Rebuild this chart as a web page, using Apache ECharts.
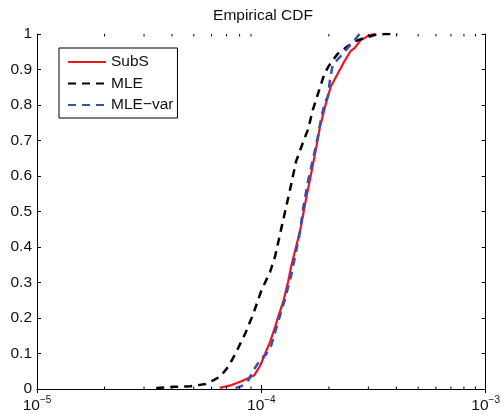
<!DOCTYPE html>
<html>
<head>
<meta charset="utf-8">
<script src="https://cdn.jsdelivr.net/npm/echarts@6/dist/echarts.min.js"></script>
<style>
  html, body { margin: 0; padding: 0; background: #fff; }
  #chart { width: 503px; height: 414px; }
</style>
</head>
<body>
<div id="chart"></div>
<script>
// Empirical CDF of three estimators (x on a log scale)
const seriesNames = ['SubS', 'MLE', 'MLE\u2212var'];

const subsX = [6.52e-5, 7.37e-5, 8.16e-5, 8.76e-5, 9.31e-5, 9.90e-5, 1.042e-4, 1.096e-4, 1.153e-4, 1.189e-4,
  1.252e-4, 1.317e-4, 1.358e-4, 1.458e-4, 1.503e-4, 1.582e-4, 1.665e-4, 1.751e-4, 1.824e-4, 1.919e-4,
  2.04e-4, 2.19e-4, 2.35e-4, 2.50e-4, 2.61e-4, 2.77e-4, 2.89e-4, 3.04e-4, 3.23e-4];
const subsY = [0.003, 0.011, 0.022, 0.031, 0.039, 0.067, 0.101, 0.134, 0.176, 0.204,
  0.246, 0.303, 0.345, 0.423, 0.459, 0.535, 0.605, 0.675, 0.737, 0.793,
  0.852, 0.888, 0.924, 0.952, 0.961, 0.983, 0.989, 0.997, 1.0];

const mleX = [3.40e-5, 4.08e-5, 4.85e-5, 5.65e-5, 6.13e-5, 6.59e-5, 7.14e-5, 7.67e-5, 8.49e-5, 9.22e-5,
  1.0e-4, 1.096e-4, 1.153e-4, 1.226e-4, 1.290e-4, 1.344e-4, 1.428e-4, 1.534e-4, 1.614e-4, 1.698e-4,
  1.824e-4, 1.919e-4, 2.04e-4, 2.19e-4, 2.43e-4, 2.63e-4, 2.89e-4, 3.19e-4, 3.54e-4, 4.04e-4];
const mleY = [0.003, 0.006, 0.008, 0.014, 0.025, 0.036, 0.064, 0.100, 0.157, 0.213,
  0.277, 0.331, 0.375, 0.451, 0.513, 0.563, 0.641, 0.695, 0.731, 0.787,
  0.849, 0.891, 0.919, 0.944, 0.966, 0.980, 0.989, 0.997, 1.0, 1.0];

const mleVarX = [7.67e-5, 8.16e-5, 8.76e-5, 9.22e-5, 1.0e-4, 1.042e-4, 1.107e-4, 1.189e-4, 1.277e-4, 1.358e-4,
  1.428e-4, 1.488e-4, 1.534e-4, 1.614e-4, 1.698e-4, 1.787e-4, 1.843e-4, 1.919e-4, 1.98e-4, 2.02e-4,
  2.08e-4, 2.26e-4, 2.43e-4, 2.61e-4, 2.74e-4];
const mleVarY = [0.003, 0.008, 0.025, 0.053, 0.087, 0.095, 0.123, 0.190, 0.255, 0.319,
  0.387, 0.443, 0.507, 0.585, 0.647, 0.711, 0.759, 0.807, 0.824, 0.868,
  0.913, 0.938, 0.961, 0.983, 1.0];

// decade tick labels: 10^exponent
const xTickExponents = ['\u22125', '\u22124', '\u22123'];
// minor ticks of the log axis (2..9 x 10^k)
const xMinorTicks = [2e-5, 3e-5, 4e-5, 5e-5, 6e-5, 7e-5, 8e-5, 9e-5,
  2e-4, 3e-4, 4e-4, 5e-4, 6e-4, 7e-4, 8e-4, 9e-4];

const FONT = 'Liberation Sans, Arial, Helvetica, sans-serif';
const FS = 15.5;
const pairs = (xs, ys) => xs.map((x, i) => [x, ys[i]]);

const grid = { left: 37, right: 14, top: 34, bottom: 23 };
const plotCenterX = grid.left + (503 - grid.left - grid.right) / 2;

const axisLine = { show: true, lineStyle: { color: '#000', width: 1 } };
const tick = { show: true, inside: true, length: 4, lineStyle: { color: '#000', width: 1 } };

const chart = echarts.init(document.getElementById('chart'), null, { renderer: 'canvas' });
chart.setOption({
  animation: false,
  backgroundColor: '#fff',
  textStyle: { fontFamily: FONT },
  title: {
    text: 'Empirical CDF',
    left: plotCenterX,
    textAlign: 'center',
    top: 8,
    padding: 0,
    textStyle: { fontFamily: FONT, fontSize: FS, fontWeight: 'normal', color: '#111' }
  },
  legend: {
    data: seriesNames,
    orient: 'vertical',
    left: 59,
    top: 48,
    padding: [6, 4, 5, 8],
    itemWidth: 38,
    itemHeight: 16,
    itemGap: 5.5,
    borderColor: '#000',
    borderWidth: 1,
    backgroundColor: '#fff',
    itemStyle: { opacity: 0 },
    textStyle: { fontFamily: FONT, fontSize: FS, color: '#111', lineHeight: 16 }
  },
  grid: grid,
  xAxis: [
    {
      type: 'log', logBase: 10, min: 1e-5, max: 1e-3, position: 'bottom',
      axisLine: axisLine, axisTick: tick, splitLine: { show: false },
      axisLabel: {
        margin: 6,
        formatter: (v, i) => '{b|10}{s|' + xTickExponents[i] + '}',
        rich: {
          b: { fontFamily: FONT, fontSize: FS, color: '#111', verticalAlign: 'bottom' },
          s: { fontFamily: FONT, fontSize: 10, color: '#111', verticalAlign: 'bottom', padding: [0, 0, 9, 0] }
        }
      }
    },
    {
      type: 'log', logBase: 10, min: 1e-5, max: 1e-3, position: 'top',
      axisLine: axisLine, axisTick: tick, splitLine: { show: false },
      axisLabel: { show: false }
    }
  ],
  yAxis: [
    {
      type: 'value', min: 0, max: 1, interval: 0.1, position: 'left',
      axisLine: axisLine, axisTick: tick, splitLine: { show: false },
      axisLabel: { margin: 5, fontFamily: FONT, fontSize: FS, color: '#111' }
    },
    {
      type: 'value', min: 0, max: 1, interval: 0.1, position: 'right',
      axisLine: axisLine, axisTick: tick, splitLine: { show: false },
      axisLabel: { show: false }
    }
  ],
  series: [
    {
      type: 'custom',
      silent: true,
      xAxisIndex: 0, yAxisIndex: 0,
      data: xMinorTicks.map(v => [v, 0]),
      encode: { x: 0, y: 1 },
      z: 5,
      renderItem: (params, api) => {
        const b = api.coord([api.value(0), 0]);
        const t = api.coord([api.value(0), 1]);
        const st = { stroke: '#000', lineWidth: 1 };
        return {
          type: 'group',
          children: [
            { type: 'line', shape: { x1: b[0], y1: b[1], x2: b[0], y2: b[1] - 2.5 }, style: st },
            { type: 'line', shape: { x1: t[0], y1: t[1], x2: t[0], y2: t[1] + 2.5 }, style: st }
          ]
        };
      }
    },
    {
      name: seriesNames[0], type: 'line', symbol: 'none', data: pairs(subsX, subsY),
      lineStyle: { color: '#f0141e', width: 2.2, type: 'solid' },
      itemStyle: { color: '#f0141e' }
    },
    {
      name: seriesNames[1], type: 'line', symbol: 'none', data: pairs(mleX, mleY),
      lineStyle: { color: '#000', width: 2.5, type: [8, 6] },
      itemStyle: { color: '#000' }
    },
    {
      name: seriesNames[2], type: 'line', symbol: 'none', data: pairs(mleVarX, mleVarY),
      lineStyle: { color: '#3352b0', width: 2.5, type: [8, 6] },
      itemStyle: { color: '#3352b0' }
    }
  ]
});
</script>
</body>
</html>
